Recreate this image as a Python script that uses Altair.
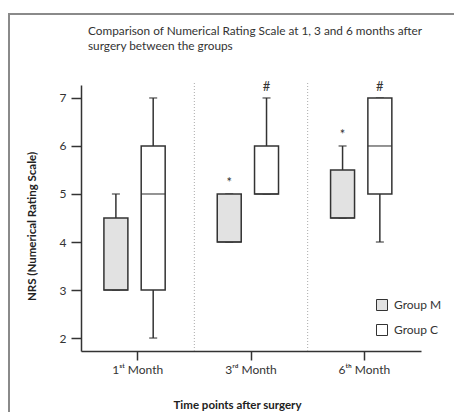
import altair as alt
import pandas as pd

# ---- data ----
month_labels = ["1ˢᵗ Month", "3ʳᵈ Month", "6ᵗʰ Month"]
groups = ["Group M", "Group C"]
row_month = ["1ˢᵗ Month", "1ˢᵗ Month", "3ʳᵈ Month", "3ʳᵈ Month", "6ᵗʰ Month", "6ᵗʰ Month"]
row_group = ["Group M", "Group C", "Group M", "Group C", "Group M", "Group C"]
mins = [3.0, 2.0, 4.0, 5.0, 4.5, 4.0]
q1s = [3.0, 3.0, 4.0, 5.0, 4.5, 5.0]
medians = [3.0, 5.0, 4.0, 5.0, 4.5, 6.0]
q3s = [4.5, 6.0, 5.0, 6.0, 5.5, 7.0]
maxs = [5.0, 7.0, 5.0, 7.0, 6.0, 7.0]
signs = ["", "", "*", "#", "*", "#"]
divider_months = ["3ʳᵈ Month", "6ᵗʰ Month"]
y_ticks = [2, 3, 4, 5, 6, 7]
title_text = "Comparison of Numerical Rating Scale at 1, 3 and 6 months after\nsurgery between the groups"

df = pd.DataFrame({
    "month": row_month, "group": row_group, "min": mins, "q1": q1s,
    "median": medians, "q3": q3s, "max": maxs, "sign": signs,
})

FONT = "Lato"
DARK = "#333333"
W, H = 340, 266

xscale = alt.Scale(domain=month_labels, paddingInner=0, paddingOuter=0)
yscale = alt.Scale(domain=[1.73, 7.27], nice=False, zero=False)
xoff = alt.XOffset("group:N", scale=alt.Scale(domain=groups, paddingInner=0.357,
                                              paddingOuter=0.698, align=0.44))

x_axis = alt.Axis(labelAngle=0, tickSize=9, tickWidth=1.5, domainWidth=1.5,
                  domainColor=DARK, tickColor=DARK, labelColor=DARK,
                  labelFont=FONT, labelFontSize=12, labelPadding=4,
                  titleFont=FONT, titleFontSize=11.5, titleFontWeight="bold",
                  titleColor="#222", titleX=156, titleY=54,
                  titleBaseline="middle", titleAlign="center")
x_enc = alt.X("month:N", scale=xscale, title="Time points after surgery", axis=x_axis)

y_enc = alt.Y("min:Q", scale=yscale, title="NRS (Numerical Rating Scale)",
              axis=alt.Axis(values=y_ticks, tickSize=10, tickWidth=1.5, domainWidth=1.5,
                            domainColor=DARK, tickColor=DARK, labelColor=DARK,
                            labelFont=FONT, labelFontSize=12, labelPadding=5, grid=False,
                            titleFont=FONT, titleFontSize=11.5, titleFontWeight="bold",
                            titleColor="#222", titleX=-49, titleY=141,
                            titleBaseline="middle", titleAlign="center"))

base = alt.Chart(df).encode(x=x_enc, xOffset=xoff)

whisk = base.mark_rule(color=DARK, strokeWidth=1.5).encode(y=y_enc, y2="max:Q")

# dividers sit at the left edge of each month band (half a band left of its centre)
dividers = alt.Chart(pd.DataFrame({"month": divider_months})).mark_rule(
    color="#aaaaaa", strokeWidth=1, strokeDash=[1, 2], xOffset=-W / 6
).encode(x=x_enc, y=alt.value(-2), y2=alt.value(H))

cap_lo = base.mark_tick(color=DARK, size=8, thickness=1.5, orient="horizontal").encode(y="min:Q")
cap_hi = base.mark_tick(color=DARK, size=8, thickness=1.5, orient="horizontal").encode(y="max:Q")

box = base.mark_bar(stroke=DARK, strokeWidth=1.5).encode(
    y="q1:Q", y2="q3:Q",
    fill=alt.Fill("group:N", scale=alt.Scale(domain=groups, range=["#e2e2e2", "#ffffff"]),
                  legend=alt.Legend(orient="none", legendX=295, legendY=214, title=None,
                                    symbolType="square", symbolSize=121,
                                    symbolStrokeColor=DARK, symbolStrokeWidth=1,
                                    labelFont=FONT, labelFontSize=12, labelColor=DARK,
                                    labelOffset=6, rowPadding=9, padding=0)))

med = base.mark_tick(color=DARK, size=24, thickness=1.5, orient="horizontal").encode(y="median:Q")

sig = base.mark_text(font=FONT, fontSize=13, color=DARK, dy=-11, baseline="middle").encode(
    y="max:Q", text="sign:N")

title = alt.Chart(pd.DataFrame({"t": [title_text]})).mark_text(
    font=FONT, fontSize=11.8, color=DARK, align="left", baseline="top",
    lineBreak="\n", lineHeight=15
).encode(x=alt.value(7), y=alt.value(-59), text="t:N")

frame_left = alt.Chart(pd.DataFrame({"a": [0]})).mark_rule(color="#8a8a8a", strokeWidth=2).encode(
    x=alt.value(-72), y=alt.value(-71), y2=alt.value(330))
frame_top = alt.Chart(pd.DataFrame({"a": [0]})).mark_rule(color="#8a8a8a", strokeWidth=2).encode(
    x=alt.value(-73), x2=alt.value(380), y=alt.value(-71))

chart = alt.layer(whisk, dividers, cap_lo, cap_hi, box, med, sig, title, frame_left, frame_top).properties(
    width=W, height=H,
    autosize=alt.AutoSizeParams(type="none"),
    padding={"left": 73, "top": 77, "right": 33, "bottom": 61},
    background="white",
).configure_view(stroke=None)

chart.save("out.html", embed_options={"renderer": "svg", "actions": False})
